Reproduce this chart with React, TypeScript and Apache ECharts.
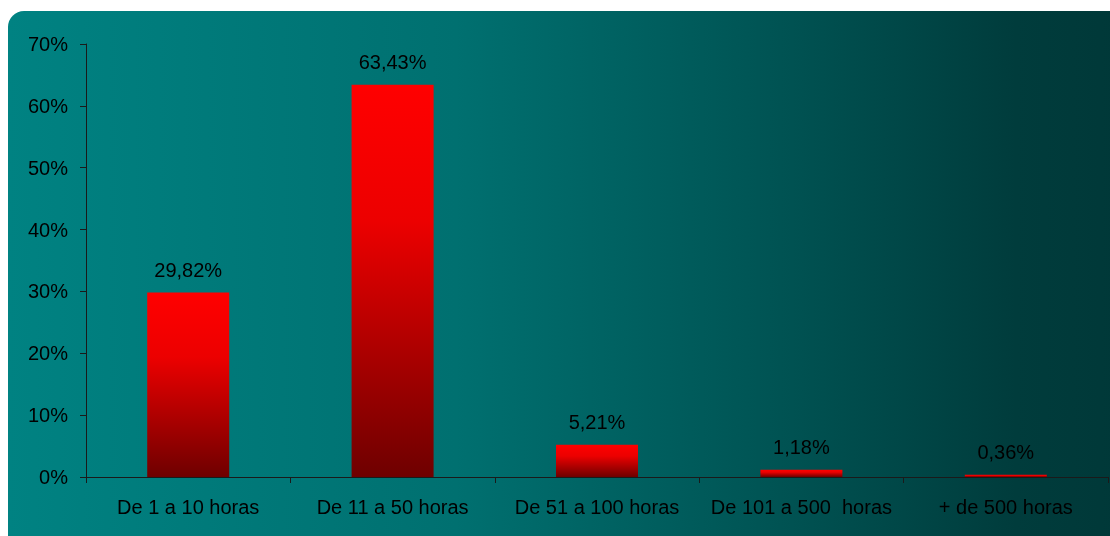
import React, { useEffect, useRef } from "react";
import * as echarts from "echarts";

const categories = ["De 1 a 10 horas", "De 11 a 50 horas", "De 51 a 100 horas", "De 101 a 500  horas", "+ de 500 horas"];
const values = [29.82, 63.43, 5.21, 1.18, 0.36];
const yTicks = { min: 0, max: 70, interval: 10 };

const FONT = "'Liberation Sans', Arial, sans-serif";

export default function App() {
  const ref = useRef<HTMLDivElement>(null);
  useEffect(() => {
    const chart = echarts.init(ref.current!, null, { renderer: "svg" });
    const barGrad = new echarts.graphic.LinearGradient(0, 0, 0, 1, [
      { offset: 0, color: "#FF0000" },
      { offset: 0.35, color: "#EC0000" },
      { offset: 1, color: "#6E0000" },
    ]);
    chart.setOption({
      animation: false,
      graphic: [
        {
          type: "rect",
          z: -10,
          silent: true,
          shape: { x: 8, y: 11, width: 1120, height: 545, r: [16, 0, 0, 16] },
          style: {
            fill: new echarts.graphic.LinearGradient(0, 0, 1, 0, [
              { offset: 0, color: "#008282" },
              { offset: 0.4, color: "#007070" },
              { offset: 0.7, color: "#005252" },
              { offset: 0.9, color: "#003C3C" },
              { offset: 1, color: "#003838" },
            ]),
          },
        },
      ],
      grid: { left: 86, right: 2, top: 44, bottom: 59, containLabel: false },
      xAxis: {
        type: "category",
        data: categories,
        axisLine: { lineStyle: { color: "#1a1a1a", width: 1 } },
        axisTick: { show: true, length: 6, alignWithLabel: false, lineStyle: { color: "#1a1a1a" } },
        axisLabel: { color: "#000", fontFamily: FONT, fontSize: 20, margin: 20, interval: 0, hideOverlap: false },
      },
      yAxis: {
        type: "value",
        min: yTicks.min,
        max: yTicks.max,
        interval: yTicks.interval,
        splitLine: { show: false },
        axisLine: { show: true, lineStyle: { color: "#1a1a1a", width: 1 } },
        axisTick: { show: true, length: 6, lineStyle: { color: "#1a1a1a" } },
        axisLabel: { color: "#000", fontFamily: FONT, fontSize: 20, margin: 18, formatter: "{value}%" },
      },
      series: [
        {
          type: "bar",
          data: values,
          barWidth: 82,
          itemStyle: { color: barGrad },
          label: {
            show: true,
            position: "top",
            distance: 13,
            color: "#000",
            fontFamily: FONT,
            fontSize: 20,
            formatter: (p: any) => p.value.toFixed(2).replace(".", ",") + "%",
          },
        },
      ],
    });
    return () => chart.dispose();
  }, []);
  return <div ref={ref} style={{ position: "fixed", left: 0, top: 0, width: 1110, height: 536 }} />;
}
